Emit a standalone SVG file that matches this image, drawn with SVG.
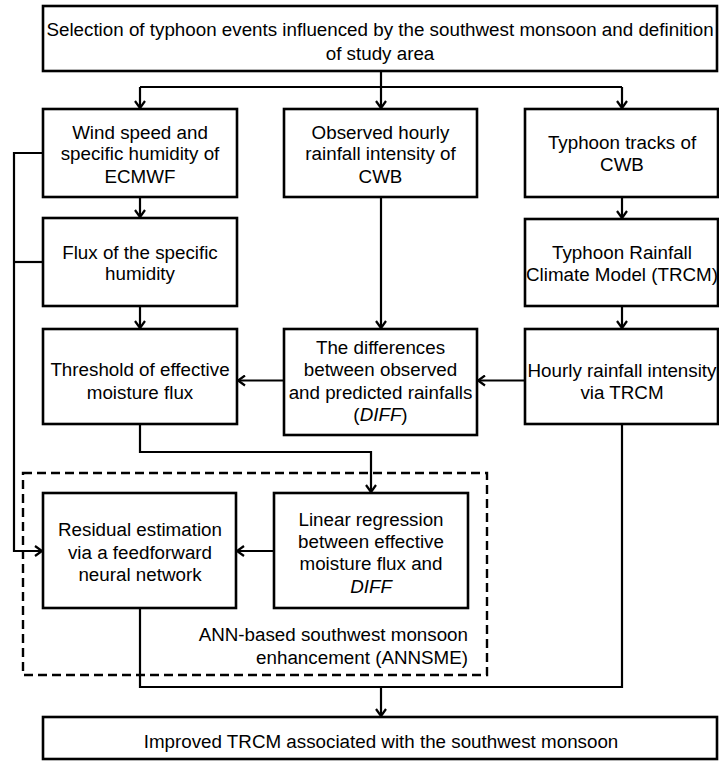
<svg xmlns="http://www.w3.org/2000/svg" width="719" height="761" viewBox="0 0 719 761">
<style>
.box{fill:#fff;stroke:#000;stroke-width:2.6}
.t{font-family:"Liberation Sans",Arial,sans-serif;font-size:18.8px;fill:#000;text-anchor:middle}
.c{fill:none;stroke:#000;stroke-width:2.2}
.i{font-style:italic}
</style>
<defs>
<marker id="ah" markerUnits="userSpaceOnUse" viewBox="0 0 10 12" markerWidth="10" markerHeight="12" refX="8" refY="6" orient="auto">
<path d="M1,1 L8,6 L1,11" fill="none" stroke="#000" stroke-width="2.2"/>
</marker>
</defs>
<g id="connectors">
<path class="c" d="M381,71 V87 M140,87 H622"/>
<path class="c" d="M140,87 V108" marker-end="url(#ah)"/>
<path class="c" d="M381,87 V108" marker-end="url(#ah)"/>
<path class="c" d="M622,87 V108" marker-end="url(#ah)"/>
<path class="c" d="M140,197 V217" marker-end="url(#ah)"/>
<path class="c" d="M140,306 V328" marker-end="url(#ah)"/>
<path class="c" d="M381,197 V328" marker-end="url(#ah)"/>
<path class="c" d="M622,197 V218" marker-end="url(#ah)"/>
<path class="c" d="M622,306 V328" marker-end="url(#ah)"/>
<path class="c" d="M525,380.5 H478" marker-end="url(#ah)"/>
<path class="c" d="M284,380.5 H238" marker-end="url(#ah)"/>
<path class="c" d="M140,424 V452 H371 V492" marker-end="url(#ah)"/>
<path class="c" d="M43,153 H14 V551 H42" marker-end="url(#ah)"/>
<path class="c" d="M43,262 H14"/>
<path class="c" d="M274,551 H237" marker-end="url(#ah)"/>
<path class="c" d="M140,608 V687 H622 V424"/>
<path class="c" d="M381,687 V716" marker-end="url(#ah)"/>
</g>
<g id="annsme">
<rect x="23" y="473" width="464" height="202" fill="none" stroke="#000" stroke-width="2.4" stroke-dasharray="9,5"/>
<text class="t" x="468" y="641" style="text-anchor:end">ANN-based southwest monsoon</text>
<text class="t" x="468" y="663.5" style="text-anchor:end">enhancement (ANNSME)</text>
</g>
<g id="n1">
<rect class="box" x="43" y="6" width="674" height="65"/>
<text class="t" x="380" y="36">Selection of typhoon events influenced by the southwest monsoon and definition</text>
<text class="t" x="380" y="59.5">of study area</text>
</g>
<g id="n2">
<rect class="box" x="43" y="109" width="194" height="88"/>
<text class="t" x="140" y="138.5">Wind speed and</text>
<text class="t" x="140" y="160">specific humidity of</text>
<text class="t" x="140" y="182.5">ECMWF</text>
</g>
<g id="n3">
<rect class="box" x="284" y="109" width="193" height="88"/>
<text class="t" x="380.5" y="138.5">Observed hourly</text>
<text class="t" x="380.5" y="160">rainfall intensity of</text>
<text class="t" x="380.5" y="182.5">CWB</text>
</g>
<g id="n4">
<rect class="box" x="525" y="109" width="193" height="88"/>
<text class="t" x="622" y="148.5">Typhoon tracks of</text>
<text class="t" x="622" y="171">CWB</text>
</g>
<g id="n5">
<rect class="box" x="43" y="218" width="194" height="88"/>
<text class="t" x="140" y="258.5">Flux of the specific</text>
<text class="t" x="140" y="280">humidity</text>
</g>
<g id="n6">
<rect class="box" x="525" y="219" width="193" height="87"/>
<text class="t" x="622" y="259">Typhoon Rainfall</text>
<text class="t" x="622" y="281">Climate Model (TRCM)</text>
</g>
<g id="n7">
<rect class="box" x="43" y="329" width="194" height="95"/>
<text class="t" x="140" y="376">Threshold of effective</text>
<text class="t" x="140" y="398.5">moisture flux</text>
</g>
<g id="n8">
<rect class="box" x="284" y="329" width="193" height="106"/>
<text class="t" x="380.5" y="353.5">The differences</text>
<text class="t" x="380.5" y="376">between observed</text>
<text class="t" x="380.5" y="398.5">and predicted rainfalls</text>
<text class="t" x="380.5" y="421">(<tspan class="i">DIFF</tspan>)</text>
</g>
<g id="n9">
<rect class="box" x="525" y="329" width="193" height="95"/>
<text class="t" x="622" y="377">Hourly rainfall intensity</text>
<text class="t" x="622" y="398.5">via TRCM</text>
</g>
<g id="n10">
<rect class="box" x="43" y="493" width="193" height="115"/>
<text class="t" x="140" y="536">Residual estimation</text>
<text class="t" x="140" y="558.5">via a feedforward</text>
<text class="t" x="140" y="581">neural network</text>
</g>
<g id="n11">
<rect class="box" x="274" y="493" width="194" height="115"/>
<text class="t" x="371" y="526">Linear regression</text>
<text class="t" x="371" y="548">between effective</text>
<text class="t" x="371" y="570">moisture flux and</text>
<text class="t i" x="371" y="593">DIFF</text>
</g>
<g id="n12">
<rect class="box" x="43" y="717" width="674" height="42"/>
<text class="t" x="381" y="747.5">Improved TRCM associated with the southwest monsoon</text>
</g>
</svg>
